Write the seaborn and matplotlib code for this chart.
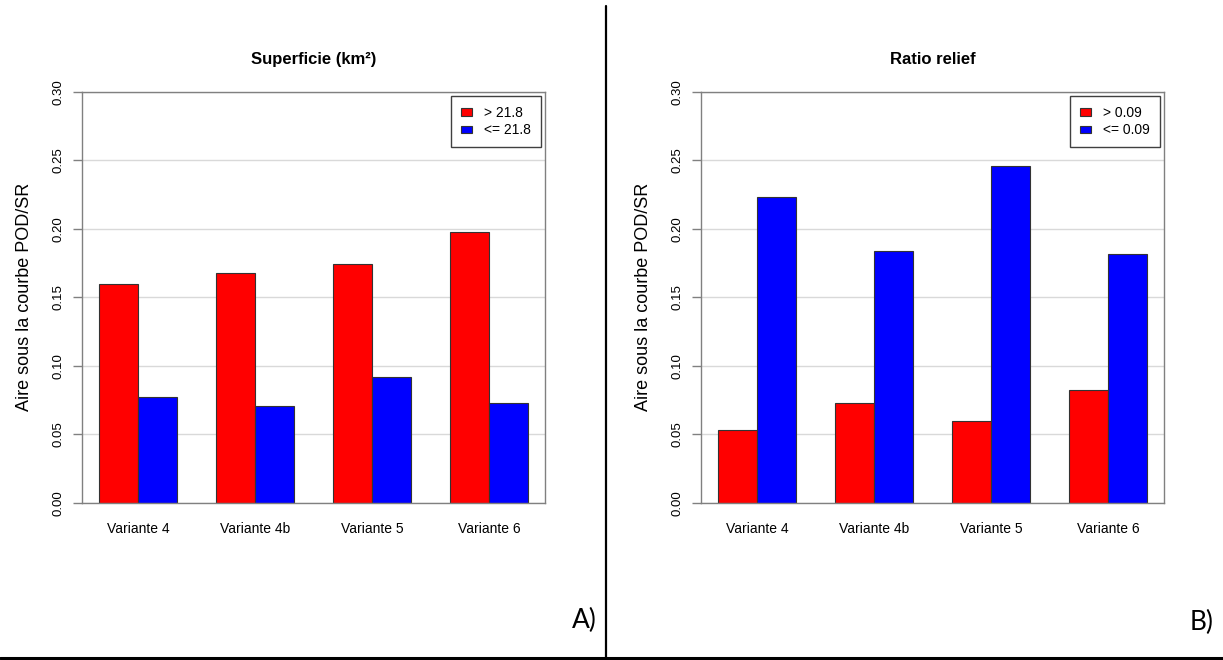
import pandas as pd
import matplotlib.pyplot as plt
import matplotlib.patches as mpatches
from matplotlib.lines import Line2D
import seaborn as sns

# data
variantes = ["Variante 4", "Variante 4b", "Variante 5", "Variante 6"]

sup_classes = ["> 21.8", "<= 21.8"]
sup_haut = [0.160, 0.168, 0.1745, 0.198]
sup_bas = [0.077, 0.071, 0.0915, 0.073]

rel_classes = ["> 0.09", "<= 0.09"]
rel_haut = [0.053, 0.073, 0.060, 0.082]
rel_bas = [0.223, 0.184, 0.246, 0.182]

couleurs = ["#ff0000", "#0000ff"]
yticks = [0.00, 0.05, 0.10, 0.15, 0.20, 0.25, 0.30]


def make_df(classes, haut, bas):
    return pd.DataFrame({
        "variante": variantes * 2,
        "classe": [classes[0]] * len(variantes) + [classes[1]] * len(variantes),
        "aire": list(haut) + list(bas),
    })


def draw_panel(ax, df, classes, title):
    sns.barplot(data=df, x="variante", y="aire", hue="classe", hue_order=classes,
                order=variantes, palette=couleurs, saturation=1, width=2 / 3,
                edgecolor="#333333", linewidth=0.8, errorbar=None, ax=ax)
    ax.set_xlim(-0.478, 3.477)
    ax.set_ylim(0, 0.30)
    ax.set_yticks(yticks)
    ax.set_yticklabels(["%.2f" % v for v in yticks], rotation=90, va="center", fontsize=9.5)
    ax.tick_params(axis="y", left=True, length=6.5, width=1, color="#808080",
                   labelcolor="black", pad=6)
    ax.tick_params(axis="x", bottom=False, length=0, pad=14, labelsize=10, labelcolor="black")
    ax.yaxis.grid(True, color="#d9d9d9", lw=1)
    ax.set_axisbelow(True)
    for sp in ax.spines.values():
        sp.set_visible(True)
        sp.set_color("#808080")
        sp.set_linewidth(1)
    ax.set_xlabel("")
    ax.set_ylabel("Aire sous la courbe POD/SR", fontsize=13, color="black")
    ax.yaxis.set_label_coords(-0.105, 0.5)
    ax.set_title(title, fontweight="bold", fontsize=12, pad=20, color="black")
    handles = [mpatches.Patch(facecolor=c, edgecolor="#333333", lw=0.8) for c in couleurs]
    leg = ax.legend(handles, classes, loc="upper right", bbox_to_anchor=(1, 1),
                    borderaxespad=0.3, fancybox=False, edgecolor="#404040", framealpha=1,
                    fontsize=10, handlelength=0.8, handleheight=0.45, labelspacing=0.25,
                    handletextpad=0.9, borderpad=0.7)
    leg.get_frame().set_linewidth(1)
    for t in leg.get_texts():
        t.set_color("black")


sns.set_style("white")
plt.rcParams["font.family"] = ["Liberation Sans", "DejaVu Sans"]
plt.rcParams["text.color"] = "black"

fig = plt.figure(figsize=(12.23, 6.6), dpi=100)
ax1 = fig.add_axes([82 / 1223, 1 - 502.7 / 660, 463 / 1223, 410.7 / 660])
ax2 = fig.add_axes([701 / 1223, 1 - 502.7 / 660, 463 / 1223, 410.7 / 660])

draw_panel(ax1, make_df(sup_classes, sup_haut, sup_bas), sup_classes, "Superficie (km²)")
draw_panel(ax2, make_df(rel_classes, rel_haut, rel_bas), rel_classes, "Ratio relief")

# panel separators and letters
fig.add_artist(Line2D([605.5 / 1223] * 2, [1 - 6 / 660, 0], color="black", lw=1.6))
fig.add_artist(Line2D([0, 1], [1 - 658 / 660] * 2, color="black", lw=2.2))
fig.text(597 / 1223, 1 - 628 / 660, "A)", ha="right", va="baseline", fontsize=19,
         color="black", family=["Lato", "DejaVu Sans"])
fig.text(1214 / 1223, 1 - 630 / 660, "B)", ha="right", va="baseline", fontsize=19,
         color="black", family=["Lato", "DejaVu Sans"])

fig.savefig("out.png", dpi=100)
